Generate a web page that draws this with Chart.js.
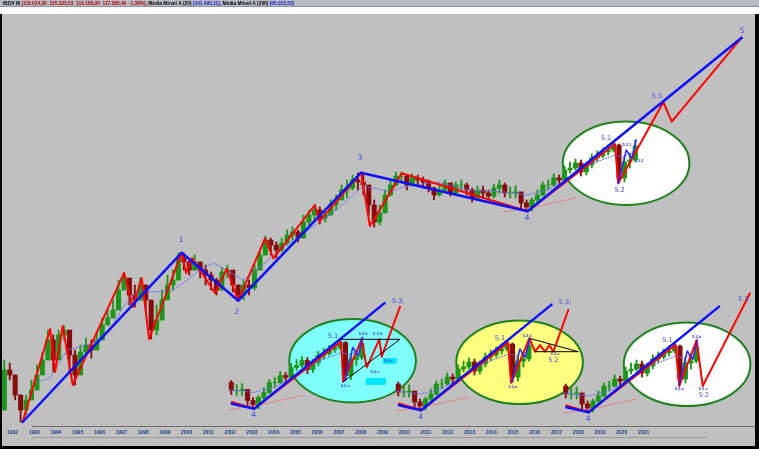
<!DOCTYPE html>
<html><head><meta charset="utf-8">
<script src="https://cdn.jsdelivr.net/npm/chart.js@4.4.1/dist/chart.umd.min.js"></script>
<style>html,body{margin:0;padding:0;background:#fff;overflow:hidden}canvas{display:block}</style>
</head><body>
<canvas id="c" width="759" height="465"></canvas>
<script>
// ---------- DATA ----------
const tickYears = [1992,1993,1994,1995,1996,1997,1998,1999,2000,2001,2002,2003,2004,2005,2006,2007,2008,2009,2010,2011,2012,2013,2014,2015,2016,2017,2018,2019,2020,2021];
const firstQuarter = 1991.875; // mid of Q4 1991, one candle per quarter
const qClose = [2576,
 2366,1684,1305,1547, 1833,2366,3053,4290, 3053,4671,5085,3324, 2366,3498,3940,3619,
 4290,5537,6243,7146, 10040,12320,9222,8471, 10930,8471,5085,6028, 8471,10930,11900,17280,
 16160,14110,16160,14110, 12960,11900,10040,13630, 14110,10930,9222,10930, 10390,14110,18210,23500,
 21580,19830,22330,25590, 26930,24310,31910,35950, 39140,34160,35950,42620, 46400,55000,56890,65200,
 63010,59880,42620,31910, 37190,50520,59880,69780, 69780,59880,67440,65200, 63010,56890,50520,55000,
 61950,52250,59880,59880, 55000,48000,55000,52250, 49670,56890,59880,52250, 52250,53150,44090,41190,
 46400,50520,59880,59880, 67440,65200,77280,79960, 87050,74690,84150,94760, 98040,105000,108600,118200,
 67440,88550,91610,116200];
const qHigh = [3053,
 2902,2366,1684,1684, 2173,2804,3498,5085, 4671,5085,5444,4671, 3619,3940,4438,4290,
 4915,6243,7146,8471, 11900,13630,11900,10930, 12320,10930,8471,7780, 10040,12960,14110,18840,
 18840,16720,18210,16160, 15360,13630,12320,14580, 15360,13630,10930,11900, 11900,15360,19830,25160,
 24310,22710,24310,27860, 29310,27860,35950,39140, 42620,41190,39140,46400, 50520,59880,65200,70980,
 73430,73430,59880,46400, 42620,55000,65200,74690, 74690,70980,72190,70980, 68600,65200,57870,59880,
 65200,61950,63010,65200, 61950,56890,58870,58870, 55000,60900,65200,61950, 57870,58870,53150,46400,
 48000,55000,63010,65200, 72190,70980,82730,88550, 93160,91610,88550,101500, 106800,112300,118200,124400,
 120200,94760,103200,128700];
const qLow = [1305,
 2173,1547,1064,1198, 1547,1996,2490,3619, 2490,3619,4290,2490, 1996,2804,3324,3159,
 3746,4671,5537,6243, 7780,10040,7780,7520, 8471,7146,4363,4671, 6028,9222,10040,11900,
 14110,12960,14110,12320, 10930,10040,9222,10040, 12320,9706,8328,8471, 9222,10040,14110,18210,
 18210,17280,19170,21580, 23500,22710,24310,30330, 33020,30850,31910,35950, 39140,46400,48000,55000,
 55000,50520,35950,29310, 30330,37190,49670,58870, 61950,55000,58870,59880, 56890,53150,46400,49670,
 53150,49670,50520,55000, 50520,44850,46400,48830, 46400,48000,52250,48830, 48000,48000,40500,37830,
 38480,44090,49670,55000, 58870,58870,63010,73430, 77280,69780,70980,79960, 88550,94760,99730,105000,
 61950,63010,79960,88550];

const ma20T = [1993.19,1993.98,1994.76,1995.35,1995.95,1996.73,1997.33,1998.11,1998.89,1999.63,2000.27,2000.87,2001.47,2001.93,2002.85,2003.63,2004.55,2005.33,2006.38,2007.30,2008.31,2008.91,2009.60,2010.20,2011.76,2013.28,2014.79,2015.90,2016.82,2017.55,2018.47,2019.94,2020.31,2020.77];
const ma20V = [2065,2250,3619,3810,4080,5085,7520,10040,9706,10040,11900,14110,15890,14580,11900,14850,19830,24310,31910,41190,57870,56890,53150,57870,63010,55000,53150,50520,55000,63010,81330,99730,96390,103200];
const ma200T = [2014.79,2016.49,2018.10];
const ma200V = [37830,41900,48000];

// primary Elliott waves (start,1,2,3,4,5)
const waveT = [1992.72,2000.03,2002.63,2008.27,2015.93,2025.76];
const waveV = [1064,18935,8371,73810,38290,733200];
// minor (red) zig-zag on the main chart
const redT = [1992.72,1993.98,1994.21,1994.56,1995.02,1997.38,1997.78,1998.19,1998.53,2000.03,2000.23,2000.50,2001.56,2002.10,2002.63,2003.86,2004.24,2006.15,2006.35,2008.27,2008.68,2010.14,2015.93,2019.94,2020.09,2022.16,2022.55,2025.76];
const redV = [1064,5170,2490,5444,1996,13440,7520,12320,4363,18935,13400,17280,9542,14410,8371,24180,17190,42620,32080,73810,29820,73060,38290,120200,61630,245000,175730,733200];
// sub-waves 5.3.1 / 5.3.2 (blue, small)
const subT = [2020.09,2020.46,2020.71,2020.91];
const subV = [61630,108600,94280,128700];
// inset wave-line tails (3->4 tail, 4, projection end)
const tailBlueT = [2014.90,2015.93,2021.92];
const tailBlueV = [41760,38290,231000];
const tailRedT = [2014.90,2015.93];
const tailRedV = [43000,38290];
// scenario 1 (triangle)
const sc1T = [2019.92,2020.02,2020.87,2021.10,2021.68,2021.79,2022.63];
const sc1V = [119800,60700,124800,77540,124800,92850,217360];
const sc1TriT = [2019.92,2022.63,2020.02];
const sc1TriV = [124800,124800,60700];
// scenario 2 (descending triangle)
const sc2T = [2019.92,2020.06,2020.90,2021.16,2021.39,2021.62,2021.82,2022.00,2022.69];
const sc2V = [120800,61250,130250,103750,116200,103750,116200,103750,210790];
const sc2TriT = [2020.90,2023.15,2021.16];
const sc2TriV = [130250,103750,103750];
// scenario 3 (flat)
const sc3T = [2019.92,2020.09,2020.89,2021.17,2023.34];
const sc3V = [120200,59880,130900,59880,289740];

// ---------- STYLE / LAYOUT ----------
const UP = '#1b961b', DOWN = '#860c0c';
const X0 = 1991.770, X1 = 2026.329, Y0 = 1011, Y1 = 1097300;
const zip = (T, V) => T.map((t, i) => ({x: t, y: V[i]}));
const candles = qClose.map((c, i) => ({t: firstQuarter + i * 0.25, o: i ? qClose[i - 1] : qLow[0], c, h: qHigh[i], l: qLow[i]}));

const BIG = '7.5px "DejaVu Sans"', MID = '6.5px "DejaVu Sans"', SMALL = 'bold 4px "Liberation Sans"';
const mainLabels = [
  ['1',2000.00,23500,BIG],['2',2002.57,6907,BIG],['3',2008.22,94760,BIG],['4',2015.90,34160,BIG],['5',2025.78,821800,BIG],
  ['5.1',2019.53,133200,MID],['5.2',2020.15,55000,MID],['5.3',2021.87,272000,MID],
  ['5.3.1',2020.49,117500,SMALL],['5.3.2',2021.04,90070,SMALL]];
const lab1 = [['4',2015.90,34160,BIG],['5.1',2019.55,131000,MID],['5.2.a',2020.11,56400,SMALL],['5.2.b',2020.94,135900,SMALL],['5.2.c',2021.48,71950,SMALL],['5.2.d',2021.60,135900,SMALL],['5.2.e',2022.09,86330,SMALL],['5.3,',2022.55,236650,MID]];
const lab2 = [['4',2015.90,34160,BIG],['5.1',2019.55,131000,MID],['5.2.a',2020.14,57100,SMALL],['5.2.b',2020.80,136100,SMALL],['5.2.c',2022.08,99200,SMALL],['5.2',2022.00,90070,MID],['5.3,',2022.54,238670,MID]];
const lab3 = [['4',2015.90,34160,BIG],['5.1',2019.55,131000,MID],['5.2.a',2020.09,57500,SMALL],['5.2.b',2020.89,136900,SMALL],['5.2.c',2021.19,57500,SMALL],['5.2',2021.23,51400,MID],['5.3',2023.03,261600,MID]];

const layers = [
  {x:'x', y:'y', fill:'#ffffff', tMin:-1e9, labels: mainLabels},
  {x:'x1', y:'y1', fill:'#80ffff', tMin:2014.85, dx:12.569, k:28.75, scen:[sc1T,sc1V], tri:[sc1TriT,sc1TriV], labels: lab1,
   boxes:[[2021.06,2021.98,57380,64650],[2021.85,2022.48,82040,90850]]},
  {x:'x2', y:'y2', fill:'#ffff80', tMin:2014.85, dx:4.894, k:29.50, scen:[sc2T,sc2V], tri:[sc2TriT,sc2TriV], labels: lab2},
  {x:'x3', y:'y3', fill:'#ffffff', tMin:2014.85, dx:-2.803, k:30.52, scen:[sc3T,sc3V], labels: lab3}
];
const ellipseBox = [2017.54, 2023.36, 42620, 176030];

function line(pts, L, color, width, order, dash) {
  return {type:'line', data:pts, xAxisID:L.x, yAxisID:L.y, borderColor:color, borderWidth:width,
    pointRadius:0, pointHoverRadius:0, fill:false, tension:0, order, borderDash:dash || [],
    borderCapStyle:'round', borderJoinStyle:'round'};
}
const datasets = [];
layers.forEach(L => {
  const cs = candles.filter(k => k.t >= L.tMin);
  const col = cs.map(k => k.c >= k.o ? UP : DOWN);
  datasets.push({type:'bar', data: cs.map(k => ({x:k.t, y:[k.l, k.h]})), backgroundColor: col, barThickness:1.2,
    grouped:false, borderWidth:0, xAxisID:L.x, yAxisID:L.y, order:8});
  datasets.push({type:'bar', data: cs.map(k => ({x:k.t, y:[Math.min(k.o,k.c), Math.max(k.o,k.c)]})), backgroundColor: col, barThickness:4.4,
    grouped:false, borderWidth:0, xAxisID:L.x, yAxisID:L.y, order:7});
  datasets.push(line(zip(ma20T, ma20V).filter(p => p.x >= L.tMin - 0.1), L, '#6f6ff0', 1, 6, [1.5,1.5]));
  datasets.push(line(zip(ma200T, ma200V), L, '#ee7070', 1, 6, [1.5,1.5]));
  if (L.x === 'x') {
    datasets.push(line(zip(redT, redV), L, '#ff0000', 2, 4));
    datasets.push(line(zip(waveT, waveV), L, '#0f0fff', 2.5, 3));
  } else {
    datasets.push(line(zip(tailRedT, tailRedV).concat(zip(L.scen[0], L.scen[1])), L, '#ff0000', 2, 4));
    datasets.push(line(zip(tailBlueT, tailBlueV), L, '#0f0fff', 2.5, 3));
    if (L.tri) datasets.push(line(zip(L.tri[0], L.tri[1]), L, '#000000', 1, 2));
  }
  datasets.push(line(zip(subT, subV), L, '#2a2aff', 1.5, 1));
});

const scales = {
  x: {type:'linear', min:X0, max:X1, position:'bottom', offset:false,
      afterBuildTicks: s => { s.ticks = tickYears.map(v => ({value:v})); },
      afterFit: s => { s.height = 22; },
      grid:{display:false, drawTicks:false}, border:{display:false},
      ticks:{align:'start', autoSkip:false, maxRotation:0, padding:5, color:'#1d3d86',
             font:{size:5, weight:'bold', family:'"Liberation Sans"'}, callback: v => String(v)}},
  y: {type:'logarithmic', min:Y0, max:Y1, display:false}
};
layers.slice(1).forEach(L => {
  scales[L.x] = {type:'linear', display:false, offset:false, min:X0 + L.dx, max:X1 + L.dx};
  scales[L.y] = {type:'logarithmic', display:false, min:Y0 * L.k, max:Y1 * L.k};
});

const header = [['IBOV M ', '#000'], ['(119.024,29  125.323,53  116.108,90  117.380,49  -1,38%)', '#b00000'],
  [', Média Móvel A (20) ', '#000'], ['(101.490,11)', '#1212c8'], [', Média Móvel A (200) ', '#000'], ['(60.013,52)', '#1212c8']];

const decor = {
  id:'decor',
  beforeDraw(chart) {
    const c = chart.ctx;
    c.save();
    c.fillStyle = '#ffffff'; c.fillRect(0, 0, 759, 465);
    c.fillStyle = '#b7bbc4'; c.fillRect(0, 0, 759, 7);
    c.fillStyle = '#8c919a'; c.fillRect(0, 6, 759, 1);
    c.fillStyle = '#c0c0c0'; c.fillRect(0, 14, 757, 433);
    c.fillStyle = '#6e6e6e'; c.fillRect(32, 426, 724, 1);
    c.fillStyle = '#9a9a9a'; c.fillRect(32, 437, 676, 1);
    c.fillStyle = '#000'; c.fillRect(0, 14, 2, 435); c.fillRect(755, 14, 4, 435); c.fillRect(0, 446, 759, 3);
    c.font = 'bold 4.8px "Liberation Sans"'; c.textBaseline = 'middle'; c.textAlign = 'left';
    let x = 3;
    header.forEach(([t, col]) => { c.fillStyle = col; c.fillText(t, x, 3.5); x += c.measureText(t).width; });
    c.restore();
  },
  beforeDatasetsDraw(chart) {
    const c = chart.ctx, a = chart.chartArea;
    c.save();
    c.beginPath(); c.rect(a.left, a.top, a.right - a.left, a.bottom - a.top); c.clip();
    layers.forEach(L => {
      const xs = chart.scales[L.x], ys = chart.scales[L.y];
      const x0 = xs.getPixelForValue(ellipseBox[0]), x1 = xs.getPixelForValue(ellipseBox[1]);
      const y0 = ys.getPixelForValue(ellipseBox[2]), y1 = ys.getPixelForValue(ellipseBox[3]);
      c.beginPath();
      c.ellipse((x0 + x1) / 2, (y0 + y1) / 2, Math.abs(x1 - x0) / 2, Math.abs(y1 - y0) / 2, 0, 0, Math.PI * 2);
      c.fillStyle = L.fill; c.fill();
      c.lineWidth = 2; c.strokeStyle = '#1f821f'; c.stroke();
      (L.boxes || []).forEach(b => {
        const bx0 = xs.getPixelForValue(b[0]), bx1 = xs.getPixelForValue(b[1]);
        const by0 = ys.getPixelForValue(b[3]), by1 = ys.getPixelForValue(b[2]);
        c.fillStyle = '#00e6ff'; c.fillRect(bx0, by0, bx1 - bx0, by1 - by0);
      });
    });
    c.restore();
  },
  afterDatasetsDraw(chart) {
    const c = chart.ctx, a = chart.chartArea;
    c.save();
    c.beginPath(); c.rect(a.left, a.top, a.right - a.left, a.bottom - a.top); c.clip();
    c.textAlign = 'center'; c.textBaseline = 'middle';
    layers.forEach(L => {
      const xs = chart.scales[L.x], ys = chart.scales[L.y];
      L.labels.forEach(([t, tx, v, f]) => {
        c.font = f; c.fillStyle = f === SMALL ? '#3a3ae0' : '#4444dd';
        c.fillText(t, xs.getPixelForValue(tx), ys.getPixelForValue(v));
      });
    });
    c.restore();
  }
};

new Chart(document.getElementById('c'), {
  type:'line',
  data:{datasets},
  options:{
    responsive:false, animation:false, devicePixelRatio:1,
    layout:{padding:{left:2, right:5, top:14, bottom:18}},
    plugins:{legend:{display:false}, tooltip:{enabled:false}, title:{display:false}},
    events:[],
    scales
  },
  plugins:[decor]
});
</script>
</body></html>
